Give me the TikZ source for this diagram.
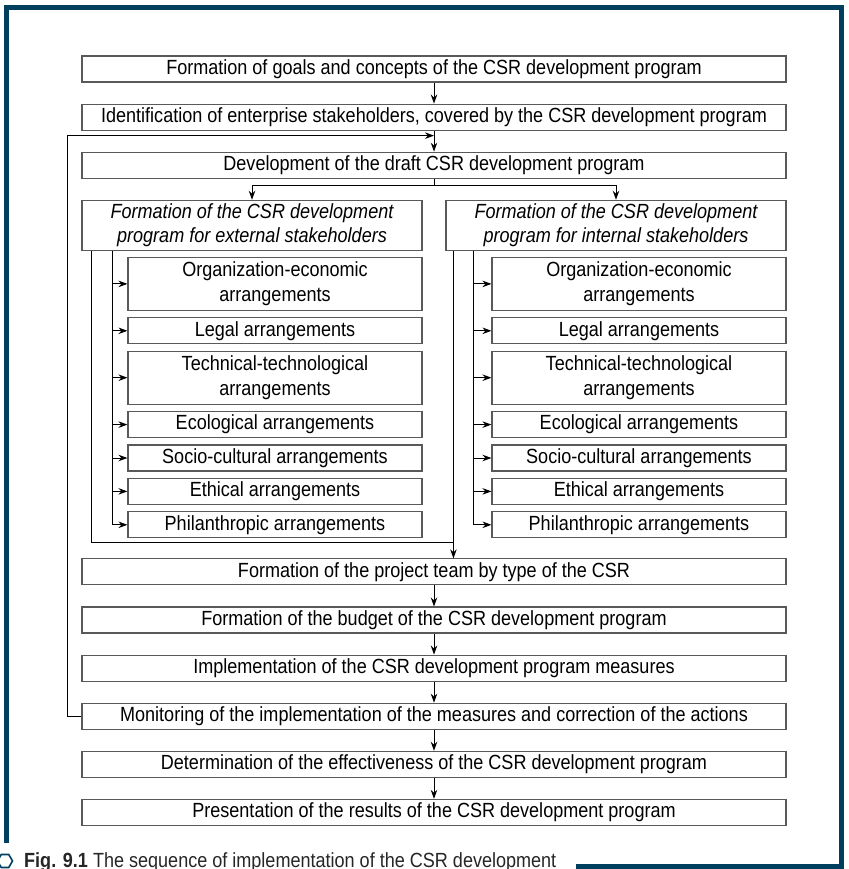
\documentclass[tikz,border=0pt]{standalone}
\usepackage{fontspec}
\setmainfont[FakeStretch=0.88]{Liberation Sans}
\usetikzlibrary{positioning,shapes.geometric,arrows.meta}
\definecolor{framenavy}{HTML}{003F5E}

\begin{document}
\begin{tikzpicture}[
        x=1pt, y=1pt,
        >={Stealth[length=9pt,width=6.5pt]},
        font=\fontsize{20.5}{25}\selectfont,
        box/.style={draw=black!65, line width=1.1pt, inner sep=0pt, align=center},
        mainbox/.style={box, minimum width=704pt, minimum height=26pt},
        formbox/.style={box, minimum width=340pt, minimum height=50pt, font=\fontsize{20.5}{23.5}\selectfont\itshape},
        subbox/.style={box, minimum width=294pt, minimum height=26pt},
        tallbox/.style={subbox, minimum height=53pt},
        link/.style={line width=1pt}
    ]

    \useasboundingbox (0,0) rectangle (848,-869);

    % Frame
    \draw[framenavy, line width=5pt] (6.5,-843) -- (6.5,-7.5) -- (841,-7.5) -- (841,-866.5) -- (576,-866.5);

    % Nodes - Upper chain
    \node[mainbox] (goals) at (434,-69) {Formation of goals and concepts of the CSR development program};
    \node[mainbox, below=21pt of goals] (ident) {Identification of enterprise stakeholders, covered by the CSR development program};
    \node[mainbox, below=21pt of ident] (draft) {Development of the draft CSR development program};

    % Nodes - External stakeholders
    \node[formbox, below=21pt of draft.south west, anchor=north west] (extform) {Formation of the CSR development\\program for external stakeholders};
    \node[tallbox, below=6pt of extform.south east, anchor=north east] (extorg) {Organization-economic\\arrangements};
    \node[subbox, below=6.3pt of extorg] (extlegal) {Legal arrangements};
    \node[tallbox, below=6.3pt of extlegal] (exttech) {Technical-technological\\arrangements};
    \node[subbox, below=6.3pt of exttech] (exteco) {Ecological arrangements};
    \node[subbox, below=6.3pt of exteco] (extsocio) {Socio-cultural arrangements};
    \node[subbox, below=6.3pt of extsocio] (exteth) {Ethical arrangements};
    \node[subbox, below=6.3pt of exteth] (extphil) {Philanthropic arrangements};

    % Nodes - Internal stakeholders
    \node[formbox, below=21pt of draft.south east, anchor=north east] (intform) {Formation of the CSR development\\program for internal stakeholders};
    \node[tallbox, below=6pt of intform.south east, anchor=north east] (intorg) {Organization-economic\\arrangements};
    \node[subbox, below=6.3pt of intorg] (intlegal) {Legal arrangements};
    \node[tallbox, below=6.3pt of intlegal] (inttech) {Technical-technological\\arrangements};
    \node[subbox, below=6.3pt of inttech] (inteco) {Ecological arrangements};
    \node[subbox, below=6.3pt of inteco] (intsocio) {Socio-cultural arrangements};
    \node[subbox, below=6.3pt of intsocio] (inteth) {Ethical arrangements};
    \node[subbox, below=6.3pt of inteth] (intphil) {Philanthropic arrangements};

    % Nodes - Lower chain
    \coordinate (subend) at (draft.south |- extphil.south);
    \node[mainbox, below=20pt of subend] (team) {Formation of the project team by type of the CSR};
    \node[mainbox, below=21pt of team] (budget) {Formation of the budget of the CSR development program};
    \node[mainbox, below=21pt of budget] (impl) {Implementation of the CSR development program measures};
    \node[mainbox, below=21pt of impl] (monitor) {Monitoring of the implementation of the measures and correction of the actions};
    \node[mainbox, below=21pt of monitor] (effect) {Determination of the effectiveness of the CSR development program};
    \node[mainbox, below=21pt of effect] (present) {Presentation of the results of the CSR development program};

    % Caption
    \node[regular polygon, regular polygon sides=6, draw=framenavy, line width=1.6pt, minimum size=15pt, inner sep=0pt] (hexmark) at (5,-861) {};
    \node[anchor=base west, inner sep=0pt, text=black!85, font=\fontsize{20.5}{24}\selectfont] (caption) at (24,-867) {\textbf{Fig. 9.1} The sequence of implementation of the CSR development};

    % Helper points
    \coordinate (loopin) at ([yshift=-5pt]ident.south);
    \coordinate (extdrop) at ([xshift=10pt]extform.south west);
    \coordinate (extbus) at ([xshift=31pt]extform.south west);
    \coordinate (intdrop) at ([xshift=8pt]intform.south west);
    \coordinate (intbus) at ([xshift=28pt]intform.south west);
    \coordinate (join) at ([yshift=-4pt]extphil.south);

    % Arrows
    \draw[->, link] (goals) -- (ident);
    \draw[->, link] (ident) -- (draft);
    \draw[->, link] (draft.south) -- ++(0,-7) -| (extform.north);
    \draw[->, link] (draft.south) -- ++(0,-7) -| (intform.north);
    \foreach \n in {org,legal,tech,eco,socio,eth,phil} {
        \draw[->, link] (extbus) |- (ext\n.west);
        \draw[->, link] (intbus) |- (int\n.west);
    }
    \draw[link] (extdrop) |- (join -| intdrop);
    \draw[->, link] (intdrop) -- (intdrop |- team.north);
    \draw[->, link] (team) -- (budget);
    \draw[->, link] (budget) -- (impl);
    \draw[->, link] (impl) -- (monitor);
    \draw[->, link] (monitor) -- (effect);
    \draw[->, link] (effect) -- (present);
    \draw[->, link] (monitor.west) -- ++(-14,0) |- (loopin);

\end{tikzpicture}
\end{document}
